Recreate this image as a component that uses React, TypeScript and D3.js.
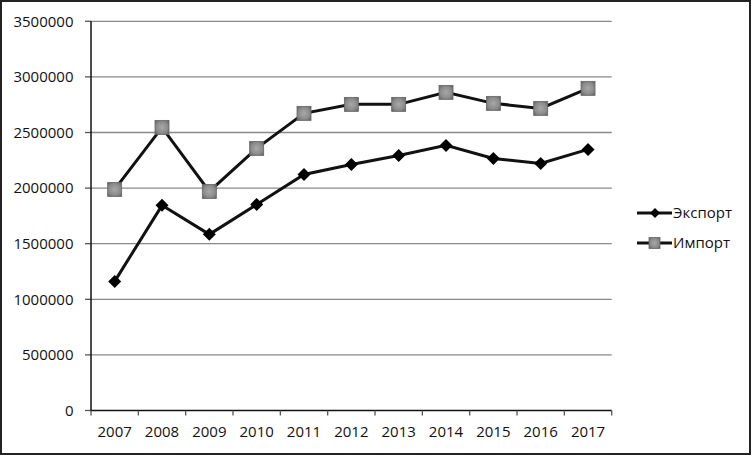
import React from "react";
import * as d3 from "d3";

const years = ["2007","2008","2009","2010","2011","2012","2013","2014","2015","2016","2017"];
const exportValues = [1161000,1845000,1584000,1853000,2123000,2213000,2294000,2384000,2267000,2222000,2348000];
const importValues = [1988000,2546000,1970000,2357000,2672000,2753000,2753000,2861000,2762000,2717000,2897000];
const yTicks = [0,500000,1000000,1500000,2000000,2500000,3000000,3500000];
const seriesNames = ["Экспорт","Импорт"];

const W = 753, H = 456;
const left = 91, right = 611.7, top = 21.3, bottom = 410.5;
const font = "'Open Sans', sans-serif";
const fs = 15;

export default function App() {
  const x = d3.scaleBand<string>().domain(years).range([left, right]).padding(0);
  const y = d3.scaleLinear().domain([0, 3500000]).range([bottom, top]);
  const cx = (d: string) => (x(d) as number) + x.bandwidth() / 2;
  const line = d3.line<number>().x((_, i) => cx(years[i])).y(v => y(v));
  const diamond = (px: number, py: number, r = 6.5) => `M${px},${py - r}L${px + r},${py}L${px},${py + r}L${px - r},${py}Z`;
  const boundaries = d3.range(years.length + 1).map(i => left + i * x.bandwidth());

  return (
    <svg width={W} height={H} style={{ position: "absolute", left: 0, top: 0 }}>
      <defs>
        <radialGradient id="sqg" cx="50%" cy="50%" r="70%">
          <stop offset="0%" stopColor="#a8a8a8" />
          <stop offset="60%" stopColor="#8a8a8a" />
          <stop offset="100%" stopColor="#5a5a5a" />
        </radialGradient>
      </defs>
      <rect x={0} y={0} width={W} height={H} fill="#fff" />
      <rect x={1} y={1} width={749} height={453} fill="none" stroke="#222" strokeWidth={2} />
      {yTicks.map(t => (
        <g key={t}>
          {t > 0 && <line x1={left} x2={right} y1={y(t)} y2={y(t)} stroke="#888" strokeWidth={1.3} />}
          <line x1={left - 6} x2={left} y1={y(t)} y2={y(t)} stroke="#555" strokeWidth={1.3} />
          <text x={73.5} y={y(t)} dy="0.35em" textAnchor="end" fontFamily={font} fontSize={fs} fill="#111">{t}</text>
        </g>
      ))}
      <line x1={left} x2={left} y1={top} y2={bottom} stroke="#111" strokeWidth={1.5} />
      <line x1={left} x2={right} y1={bottom} y2={bottom} stroke="#111" strokeWidth={1.5} />
      {boundaries.map((b, i) => (
        <line key={i} x1={b} x2={b} y1={bottom} y2={bottom + 5} stroke="#555" strokeWidth={1.3} />
      ))}
      {years.map(yr => (
        <text key={yr} x={cx(yr)} y={437} textAnchor="middle" fontFamily={font} fontSize={fs} fill="#111">{yr}</text>
      ))}
      <path d={line(importValues) as string} fill="none" stroke="#111" strokeWidth={3} />
      <path d={line(exportValues) as string} fill="none" stroke="#111" strokeWidth={3} />
      {importValues.map((v, i) => (
        <rect key={"i" + i} x={cx(years[i]) - 7} y={y(v) - 7} width={14} height={14} fill="url(#sqg)" stroke="#666" strokeWidth={0.8} />
      ))}
      {exportValues.map((v, i) => (
        <path key={"e" + i} d={diamond(cx(years[i]), y(v))} fill="#000" />
      ))}
      <g>
        <line x1={637} x2={672} y1={213} y2={213} stroke="#111" strokeWidth={3} />
        <path d={diamond(655, 213, 5)} fill="#000" />
        <text x={673} y={213} dy="0.35em" fontFamily={font} fontSize={fs} fill="#111">{seriesNames[0]}</text>
        <line x1={637} x2={672} y1={243} y2={243} stroke="#111" strokeWidth={3} />
        <rect x={649} y={237.5} width={11} height={11} fill="url(#sqg)" stroke="#666" strokeWidth={0.8} />
        <text x={673} y={243} dy="0.35em" fontFamily={font} fontSize={fs} fill="#111">{seriesNames[1]}</text>
      </g>
    </svg>
  );
}
